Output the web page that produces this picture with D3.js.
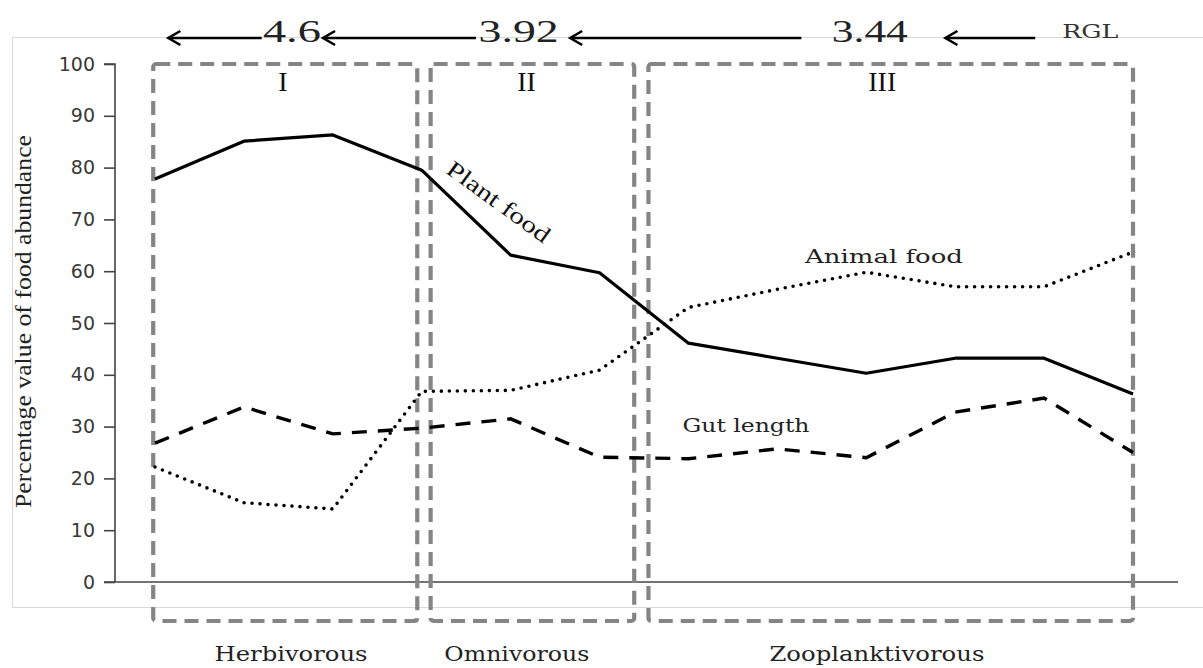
<!DOCTYPE html>
<html><head><meta charset="utf-8">
<script src="https://cdn.jsdelivr.net/npm/d3@7"></script>
<style>html,body{margin:0;padding:0;background:#fff;}svg{display:block;}</style>
</head><body>
<svg id="chart" width="1203" height="668"></svg>
<script>
// ---- data ----
const categories = ["1","2","3","4","5","6","7","8","9","10","11","12"];
const plantFood  = [77.8, 85.1, 86.3, 79.5, 63.1, 59.7, 46.1, 43.2, 40.3, 43.2, 43.2, 36.3];
const animalFood = [22.2, 15.3, 14.1, 36.8, 37.0, 40.9, 53.0, 56.5, 59.8, 57.0, 57.0, 63.7];
const gutLength  = [26.8, 33.8, 28.6, 29.7, 31.5, 24.1, 23.8, 25.7, 24.0, 32.8, 35.5, 25.0];
const yTicks = [0,10,20,30,40,50,60,70,80,90,100];
const groupRoman = ["I","II","III"];
const groupNames = ["Herbivorous","Omnivorous","Zooplanktivorous"];
const rglValues = ["4.6","3.92","3.44"];
const rglLabel = "RGL";
const yTitle = "Percentage value of food abundance";

// ---- layout ----
const svg = d3.select("#chart");
const x = d3.scalePoint().domain(categories).range([155, 1133]);
const y = d3.scaleLinear().domain([0, 100]).range([582, 64]);
const xf = i => x.range()[0] + i * x.step();

// outer light frame
svg.append("rect").attr("x", 12.5).attr("y", 37.5).attr("width", 1210).attr("height", 570)
  .attr("fill", "none").attr("stroke", "#d9d9d9").attr("stroke-width", 1);

// y axis
const yAxis = d3.axisLeft(y).tickValues(yTicks).tickSize(11).tickPadding(9);
const ga = svg.append("g").attr("transform", "translate(115,0)").call(yAxis);
ga.select(".domain").attr("d", `M-11,${y(100)}H0V${y(0)}`).attr("stroke", "#444").attr("stroke-width", 1.6);
ga.selectAll(".tick line").attr("stroke", "#444").attr("stroke-width", 1.6);
ga.selectAll(".tick text").attr("font-family", "DejaVu Sans").attr("font-size", 19).attr("fill", "#383838");

// x axis line
svg.append("line").attr("x1", 104).attr("x2", 1178).attr("y1", y(0)).attr("y2", y(0))
  .attr("stroke", "#444").attr("stroke-width", 1.6);

// y title
svg.append("text").attr("transform", `translate(31,${(135+508)/2}) rotate(-90)`)
  .attr("text-anchor", "middle").attr("font-family", "Liberation Serif").attr("font-size", 23)
  .attr("textLength", 373).attr("lengthAdjust", "spacingAndGlyphs").attr("fill", "#222")
  .text(yTitle);

// group boxes
const boxSpans = [[-0.02, 2.95], [3.10, 5.39], [5.55, 11.0]];
boxSpans.forEach(s => {
  svg.append("rect").attr("x", xf(s[0])).attr("y", y(100)).attr("width", xf(s[1]) - xf(s[0]))
    .attr("height", 621 - y(100)).attr("rx", 3)
    .attr("fill", "none").attr("stroke", "#858585").attr("stroke-width", 4.2)
    .attr("stroke-dasharray", "14,8");
});

// series
const line = d3.line().x((d, i) => x(categories[i])).y(d => y(d));
svg.append("path").datum(plantFood).attr("d", line).attr("fill", "none")
  .attr("stroke", "#000").attr("stroke-width", 3.2).attr("stroke-linejoin", "round");
svg.append("path").datum(animalFood).attr("d", line).attr("fill", "none")
  .attr("stroke", "#000").attr("stroke-width", 3.6).attr("stroke-linecap", "round")
  .attr("stroke-dasharray", "0,8");
svg.append("path").datum(gutLength).attr("d", line).attr("fill", "none")
  .attr("stroke", "#000").attr("stroke-width", 3.4).attr("stroke-dasharray", "15,11");

// roman labels in boxes
const romanPos = [1.44, 4.18, 8.18];
groupRoman.forEach((t, i) => {
  svg.append("text").attr("x", xf(romanPos[i])).attr("y", 91).attr("text-anchor", "middle")
    .attr("font-family", "Liberation Serif").attr("font-size", 28).attr("fill", "#111").text(t);
});

// bottom group names
const namePos = [1.53, 4.07, 8.12];
const nameLen = [153, 145, 215];
groupNames.forEach((t, i) => {
  svg.append("text").attr("x", xf(namePos[i])).attr("y", 661).attr("text-anchor", "middle")
    .attr("font-family", "DejaVu Serif").attr("font-size", 20).attr("fill", "#222")
    .attr("textLength", nameLen[i]).attr("lengthAdjust", "spacingAndGlyphs").text(t);
});

// RGL values and arrows on top
const rglPos = [1.54, 4.09, 8.04];
const rglLen = [58, 80, 76];
rglValues.forEach((t, i) => {
  svg.append("text").attr("x", xf(rglPos[i])).attr("y", 42).attr("text-anchor", "middle")
    .attr("font-family", "Liberation Serif").attr("font-size", 32).attr("fill", "#222")
    .attr("textLength", rglLen[i]).attr("lengthAdjust", "spacingAndGlyphs").text(t);
});
svg.append("text").attr("x", xf(10.52)).attr("y", 38).attr("text-anchor", "middle")
  .attr("font-family", "DejaVu Serif").attr("font-size", 18).attr("fill", "#333")
  .attr("textLength", 56).attr("lengthAdjust", "spacingAndGlyphs").text(rglLabel);

const arrows = [[1.20, 0.15], [3.61, 1.89], [7.27, 4.67], [9.90, 8.89]];
arrows.forEach(a => {
  const x1 = xf(a[0]), x2 = xf(a[1]), yy = 38;
  svg.append("line").attr("x1", x1).attr("x2", x2 + 1).attr("y1", yy).attr("y2", yy)
    .attr("stroke", "#000").attr("stroke-width", 2.6);
  svg.append("path").attr("d", `M${x2 + 12},${yy - 7}L${x2},${yy}L${x2 + 12},${yy + 7}`)
    .attr("fill", "none").attr("stroke", "#000").attr("stroke-width", 2.6)
    .attr("stroke-linejoin", "miter");
});

// series labels
svg.append("text").attr("transform", `translate(494,208) rotate(36)`).attr("text-anchor", "middle")
  .attr("font-family", "Liberation Serif").attr("font-size", 23).attr("fill", "#111")
  .attr("textLength", 122).attr("lengthAdjust", "spacingAndGlyphs").text("Plant food");
svg.append("text").attr("x", 884).attr("y", 263).attr("text-anchor", "middle")
  .attr("font-family", "DejaVu Serif").attr("font-size", 19).attr("fill", "#222")
  .attr("textLength", 158).attr("lengthAdjust", "spacingAndGlyphs").text("Animal food");
svg.append("text").attr("x", 746).attr("y", 432).attr("text-anchor", "middle")
  .attr("font-family", "DejaVu Serif").attr("font-size", 19).attr("fill", "#222")
  .attr("textLength", 127).attr("lengthAdjust", "spacingAndGlyphs").text("Gut length");
</script>
</body></html>
